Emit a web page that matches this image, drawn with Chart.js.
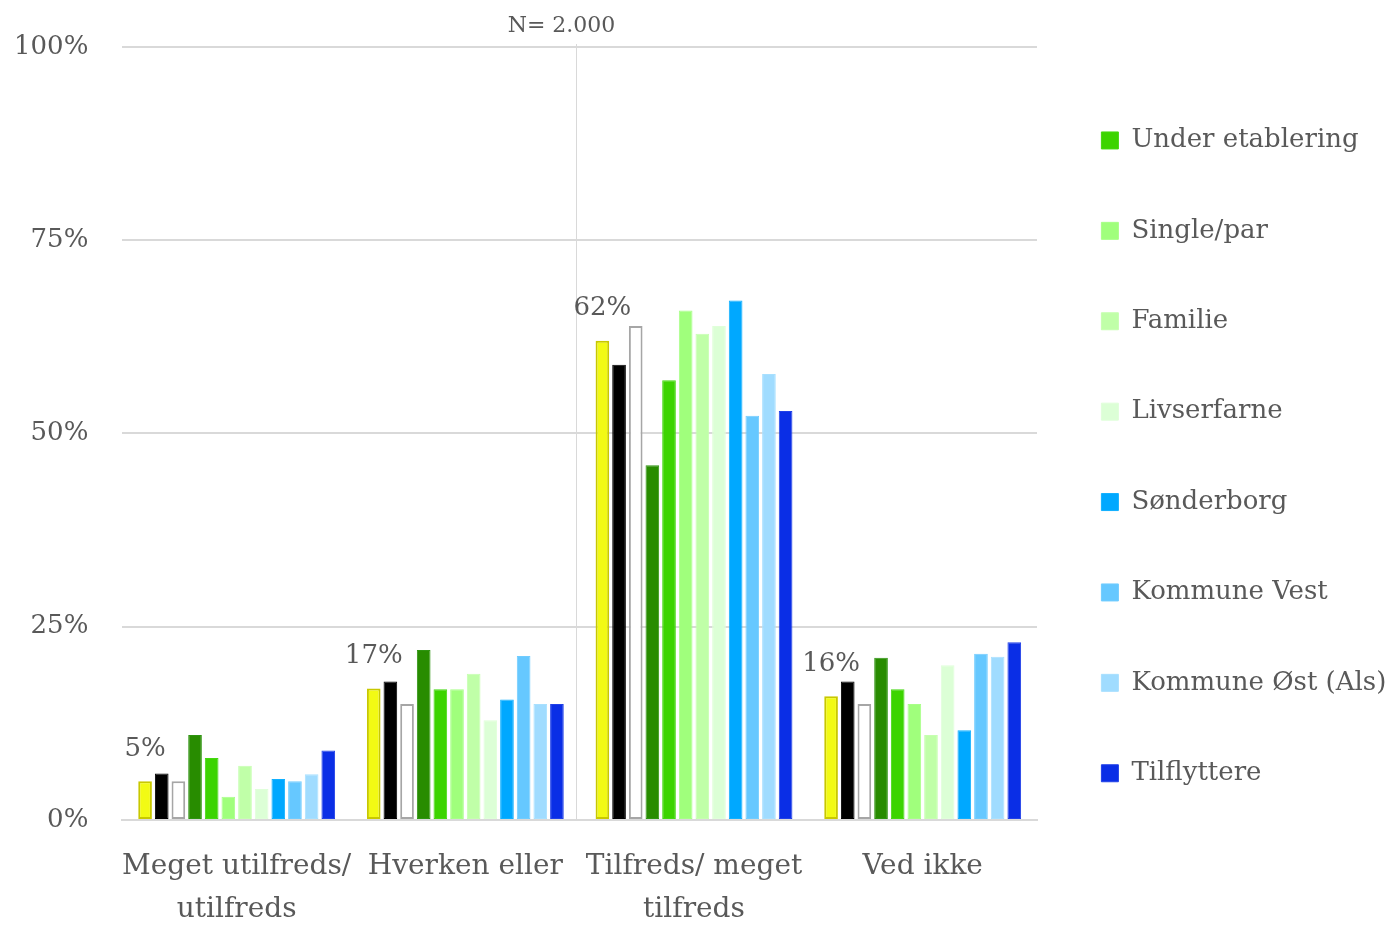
<!DOCTYPE html>
<html>
<head>
<meta charset="utf-8">
<script src="https://cdn.jsdelivr.net/npm/chart.js@4"></script>
<style>
  html, body { margin: 0; padding: 0; background: #ffffff; }
  #wrap { width: 1387px; height: 926px; position: relative; }
</style>
</head>
<body>
<div id="wrap"><canvas id="c"></canvas></div>
<script>
const categories = [["Meget utilfreds/", "utilfreds"], ["Hverken eller"], ["Tilfreds/ meget", "tilfreds"], ["Ved ikke"]];
const yTickValues = [0, 25, 50, 75, 100];
const annotationText = "N= 2.000";

const seriesNames = ["Serie 1", "Serie 2", "Serie 3", "Serie 4", "Under etablering", "Single/par", "Familie", "Livserfarne", "Sønderborg", "Kommune Vest", "Kommune Øst (Als)", "Tilflyttere"];
const legendHidden = [true, true, true, true, false, false, false, false, false, false, false, false];

const serie1 = [5, 17, 62, 16];
const serie2 = [6, 17.9, 58.9, 17.9];
const serie3 = [5, 15, 63.9, 15];
const serie4 = [11, 22, 45.9, 21];
const underEtablering = [8, 16.9, 56.9, 16.9];
const singlePar = [3, 16.9, 65.9, 15];
const familie = [7, 18.9, 62.9, 11];
const livserfarne = [4, 12.9, 63.9, 20];
const soenderborg = [5.3, 15.6, 67.2, 11.6];
const kommuneVest = [5, 21.2, 52.3, 21.5];
const kommuneOest = [5.9, 15, 57.7, 21.1];
const tilflyttere = [9, 15, 52.9, 23];

const seriesValues = [serie1, serie2, serie3, serie4, underEtablering, singlePar, familie, livserfarne, soenderborg, kommuneVest, kommuneOest, tilflyttere];
const fillColors = ["#f2fa14", "#000000", "#ffffff", "#288c00", "#3cd400", "#a0ff7c", "#c0ffa8", "#dcffd6", "#00a8ff", "#66c8ff", "#a0dcff", "#0a2ee6"];
const borderColors = ["#c8c800", "#000000", "#a6a6a6", "#2e9410", "#44d810", "#a8ff88", "#c6ffb0", "#e0ffda", "#10b0ff", "#70ccff", "#a8e0ff", "#2040e8"];
const borderWidths = [2, 1, 2, 1, 1, 1, 1, 1, 1, 1, 1, 1];

const FONT = "'DejaVu Serif', 'Liberation Serif', serif";
const TEXT = "#595959";
const GRID = "#d9d9d9";

const datasets = seriesNames.map((name, i) => ({
  label: name,
  data: seriesValues[i],
  backgroundColor: fillColors[i],
  borderColor: borderColors[i],
  borderWidth: borderWidths[i],
  borderSkipped: false,
  categoryPercentage: 0.874,
  barPercentage: 0.82
}));

const legendWidth = 350;
const legendLift = 37;

const layoutPlugin = {
  id: 'layoutTweaks',
  beforeInit(chart) {
    const lg = chart.legend;
    if (lg) {
      const origFit = lg.fit;
      lg.fit = function() {
        origFit.call(this);
        this.width = Math.min(this.maxWidth || legendWidth, legendWidth);
      };
    }
  },
  afterLayout(chart) {
    const lg = chart.legend;
    if (lg) {
      lg.top -= legendLift;
      lg.bottom -= legendLift;
    }
  }
};

const decoPlugin = {
  id: 'deco',
  beforeDatasetsDraw(chart) {
    const ctx = chart.ctx;
    const xs = chart.scales.x;
    const area = chart.chartArea;
    const lx = Math.round((xs.getPixelForValue(1) + xs.getPixelForValue(2)) / 2 - 4) + 0.5;
    ctx.save();
    ctx.strokeStyle = GRID;
    ctx.lineWidth = 1;
    ctx.beginPath();
    ctx.moveTo(lx, area.top - 3);
    ctx.lineTo(lx, area.bottom);
    ctx.stroke();
    ctx.fillStyle = TEXT;
    ctx.font = "22px " + FONT;
    ctx.textAlign = 'center';
    ctx.textBaseline = 'middle';
    ctx.fillText(annotationText, lx - 15, area.top - 21);
    ctx.restore();
  },
  afterDatasetsDraw(chart) {
    const ctx = chart.ctx;
    const meta = chart.getDatasetMeta(0);
    ctx.save();
    ctx.fillStyle = TEXT;
    ctx.font = "26px " + FONT;
    ctx.textAlign = 'center';
    ctx.textBaseline = 'middle';
    meta.data.forEach((bar, j) => {
      ctx.fillText(Math.round(serie1[j]) + '%', bar.x, bar.y - 32);
    });
    ctx.restore();
  }
};

new Chart(document.getElementById('c'), {
  type: 'bar',
  data: { labels: categories, datasets: datasets },
  options: {
    responsive: true,
    maintainAspectRatio: false,
    animation: false,
    layout: { padding: { left: -20, right: 0, top: 31.5, bottom: -30.2 } },
    plugins: {
      tooltip: { enabled: false },
      legend: {
        position: 'right',
        align: 'center',
        labels: {
          filter: (item) => !legendHidden[item.datasetIndex],
          boxWidth: 17,
          boxHeight: 17,
          padding: 64.4,
          color: TEXT,
          font: { family: FONT, size: 26 }
        }
      }
    },
    scales: {
      x: {
        grid: { display: false, drawTicks: false },
        border: { display: true, color: GRID, width: 2 },
        ticks: {
          color: TEXT,
          padding: 25,
          maxRotation: 0,
          autoSkip: false,
          font: { family: FONT, size: 28, lineHeight: 1.54 }
        }
      },
      y: {
        min: 0,
        max: 100,
        afterBuildTicks: (axis) => { axis.ticks = yTickValues.map(v => ({ value: v })); },
        grid: { color: GRID, lineWidth: 2, drawTicks: false },
        border: { display: false },
        ticks: {
          color: TEXT,
          padding: 34,
          callback: (v) => v + '%',
          font: { family: FONT, size: 26, lineHeight: 1.0 }
        }
      }
    }
  },
  plugins: [layoutPlugin, decoPlugin]
});
</script>
</body>
</html>
